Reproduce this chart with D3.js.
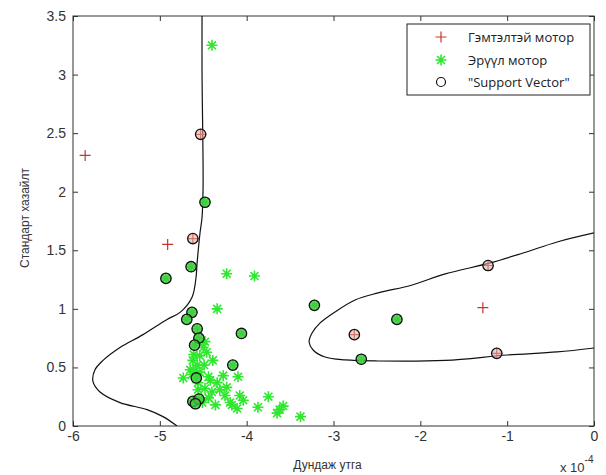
<!DOCTYPE html>
<html><head><meta charset="utf-8">
<script src="https://cdn.jsdelivr.net/npm/d3@7"></script>
<style>
body{margin:0;background:#fff;}
svg{display:block;}
</style></head>
<body>
<svg id="chart" width="606" height="475"></svg>
<script>
// x values are in units of 1e-4
const xTicks = [-6,-5,-4,-3,-2,-1,0];
const yTicks = [0,0.5,1,1.5,2,2.5,3,3.5];
const legendLabels = ["Гэмтэлтэй мотор","Эрүүл мотор","\"Support Vector\""];

// Faulty motor (red +)
const faultyX = [-5.86,-4.91,-1.28,-4.53,-4.62,-1.22,-2.76,-1.12];
const faultyY = [2.31,1.55,1.01,2.49,1.60,1.37,0.78,0.62];

// Healthy motor (green *)
const healthyX = [-4.40,-4.23,-3.91,-4.34,-4.48,-4.50,-4.46,-4.54,-4.62,-4.57,-4.49,-4.65,-4.54,-4.73,-4.63,-4.44,-4.56,-4.34,-4.27,-4.10,-4.48,-4.56,-4.40,-4.31,-4.25,-4.44,-4.19,-4.11,-4.08,-4.04,-4.17,-3.75,-3.87,-3.62,-3.58,-3.65,-3.38,-4.36,-4.51,-4.42,-4.61,-4.39,-4.23,-4.59,
  -4.48,-4.64,-4.93,-3.22,-2.27,-2.68,-4.63,-4.69,-4.57,-4.55,-4.60,-4.06,-4.16,-4.58,-4.62,-4.55,-4.59];
const healthyY = [3.25,1.30,1.28,1.00,0.72,0.67,0.63,0.60,0.56,0.52,0.52,0.48,0.46,0.41,0.44,0.42,0.37,0.37,0.43,0.42,0.32,0.31,0.29,0.31,0.26,0.24,0.20,0.15,0.26,0.22,0.18,0.25,0.16,0.14,0.17,0.11,0.08,0.18,0.20,0.39,0.61,0.56,0.33,0.47,
  1.91,1.36,1.26,1.03,0.91,0.57,0.97,0.91,0.83,0.75,0.69,0.79,0.52,0.41,0.21,0.23,0.19];

// Support vectors (black circles)
const svX = [-4.53,-4.62,-1.22,-2.76,-1.12,-4.48,-4.64,-4.93,-3.22,-2.27,-2.68,-4.63,-4.69,-4.57,-4.55,-4.60,-4.06,-4.16,-4.58,-4.62,-4.55,-4.59];
const svY = [2.49,1.60,1.37,0.78,0.62,1.91,1.36,1.26,1.03,0.91,0.57,0.97,0.91,0.83,0.75,0.69,0.79,0.52,0.41,0.21,0.23,0.19];
const svClass = ["f","f","f","f","f","h","h","h","h","h","h","h","h","h","h","h","h","h","h","h","h","h"];

// Decision boundary, left branch
const leftBX = [-4.514,-4.514,-4.502,-4.514,-4.537,-4.571,-4.583,-4.629,-4.767,-4.917,-5.194,-5.459,-5.654,-5.747,-5.770,-5.689,-5.459,-5.147,-4.963,-4.802];
const leftBY = [3.50,3.02,2.04,1.78,1.65,1.39,1.27,1.10,0.97,0.91,0.78,0.67,0.56,0.48,0.38,0.29,0.20,0.14,0.08,0.0];
// Decision boundary, right branch
const rightBX = [0.0,-0.424,-0.816,-1.196,-1.714,-2.094,-2.486,-2.751,-2.982,-3.154,-3.247,-3.281,-3.235,-3.097,-2.866,-2.486,-1.714,-1.0,-0.424,0.0];
const rightBY = [1.648,1.571,1.477,1.392,1.298,1.204,1.136,1.076,0.974,0.880,0.794,0.717,0.649,0.589,0.564,0.555,0.560,0.606,0.632,0.666];

const svg = d3.select("#chart");
const L=73, R=594, T=16, B=426;
const x = d3.scaleLinear().domain([-6,0]).range([L,R]);
const y = d3.scaleLinear().domain([0,3.5]).range([B,T]);
const font = "'Liberation Sans', Arial, sans-serif";

svg.append("rect").attr("width",606).attr("height",475).attr("fill","#fff");

// axes
const fmt = d => String(d);
const gx = svg.append("g").attr("transform",`translate(0,${B})`)
  .call(d3.axisBottom(x).tickValues(xTicks).tickFormat(fmt).tickSizeInner(-5).tickSizeOuter(0).tickPadding(5));
const gy = svg.append("g").attr("transform",`translate(${L},0)`)
  .call(d3.axisLeft(y).tickValues(yTicks).tickFormat(fmt).tickSizeInner(-5).tickSizeOuter(0).tickPadding(7));
const gxt = svg.append("g").attr("transform",`translate(0,${T})`)
  .call(d3.axisTop(x).tickValues(xTicks).tickFormat("").tickSizeInner(-5).tickSizeOuter(0));
const gyr = svg.append("g").attr("transform",`translate(${R},0)`)
  .call(d3.axisRight(y).tickValues(yTicks).tickFormat("").tickSizeInner(-5).tickSizeOuter(0));
[gx,gy,gxt,gyr].forEach(g=>{
  g.select(".domain").remove();
  g.selectAll(".tick line").attr("stroke","#333");
  g.selectAll("text").attr("font-family",font).attr("font-size",14).attr("fill","#333");
});
svg.append("rect").attr("x",L).attr("y",T).attr("width",R-L).attr("height",B-T)
  .attr("fill","none").attr("stroke","#333").attr("stroke-width",1);

// boundaries
const line = d3.line().x(d=>x(d[0])).y(d=>y(d[1])).curve(d3.curveCatmullRom.alpha(0.5));
const clip = svg.append("clipPath").attr("id","pc").append("rect").attr("x",L).attr("y",T).attr("width",R-L).attr("height",B-T);
svg.append("path").datum(leftBX.map((v,i)=>[v,leftBY[i]])).attr("d",line)
  .attr("fill","none").attr("stroke","#111").attr("stroke-width",1.2).attr("clip-path","url(#pc)");
svg.append("path").datum(rightBX.map((v,i)=>[v,rightBY[i]])).attr("d",line)
  .attr("fill","none").attr("stroke","#111").attr("stroke-width",1.2).attr("clip-path","url(#pc)");

// marker paths
const plusPath = s => `M${-s},0H${s}M0,${-s}V${s}`;
const starPath = s => { const d=s*0.72; return `M${-s},0H${s}M0,${-s}V${s}M${-d},${-d}L${d},${d}M${-d},${d}L${d},${-d}`; };

const green = "#2ee82e", red = "#c0392b";
svg.append("g").selectAll("path").data(healthyX.map((v,i)=>[v,healthyY[i]])).join("path")
  .attr("transform",d=>`translate(${x(d[0])},${y(d[1])})`).attr("d",starPath(5.5))
  .attr("stroke",green).attr("stroke-width",1.6).attr("fill","none");
svg.append("g").selectAll("path").data(faultyX.map((v,i)=>[v,faultyY[i]])).join("path")
  .attr("transform",d=>`translate(${x(d[0])},${y(d[1])})`).attr("d",plusPath(5.5))
  .attr("stroke",red).attr("stroke-width",1.2).attr("fill","none");
svg.append("g").selectAll("circle").data(svX.map((v,i)=>[v,svY[i],svClass[i]])).join("circle")
  .attr("cx",d=>x(d[0])).attr("cy",d=>y(d[1])).attr("r",5.2)
  .attr("fill",d=>d[2]==="h" ? "rgba(70,200,70,0.75)" : "rgba(225,170,170,0.55)")
  .attr("stroke","#111").attr("stroke-width",1.3);

// axis titles
svg.append("text").attr("x",(L+R)/2-6).attr("y",469).attr("text-anchor","middle")
  .attr("font-family",font).attr("font-size",12).attr("fill","#333").text("Дундаж утга");
svg.append("text").attr("transform","translate(29,218) rotate(-90)").attr("text-anchor","middle")
  .attr("font-family",font).attr("font-size",12).attr("fill","#333").text("Стандарт хазайлт");
const sci = svg.append("text").attr("x",560).attr("y",472).attr("font-family",font).attr("font-size",13).attr("fill","#333");
sci.append("tspan").text("x 10");
sci.append("tspan").attr("dy",-9).attr("font-size",10).text("-4");

// legend
const lg = svg.append("g");
lg.append("rect").attr("x",407).attr("y",24).attr("width",183).attr("height",71)
  .attr("fill","#fff").attr("stroke","#222").attr("stroke-width",1);
const rowsY = [37,60,82];
lg.append("path").attr("transform",`translate(441,${rowsY[0]})`).attr("d",plusPath(5.5)).attr("stroke",red).attr("stroke-width",1.2);
lg.append("path").attr("transform",`translate(441,${rowsY[1]})`).attr("d",starPath(5.5)).attr("stroke",green).attr("stroke-width",1.6);
lg.append("circle").attr("cx",441).attr("cy",rowsY[2]).attr("r",4.5).attr("fill","none").attr("stroke","#111").attr("stroke-width",1.2);
lg.selectAll("text.l").data(legendLabels).join("text").attr("class","l")
  .attr("x",468).attr("y",(d,i)=>rowsY[i]+4.5)
  .attr("font-family","'Open Sans', sans-serif").attr("font-size",13).attr("fill","#222").text(d=>d);
</script>
</body></html>
